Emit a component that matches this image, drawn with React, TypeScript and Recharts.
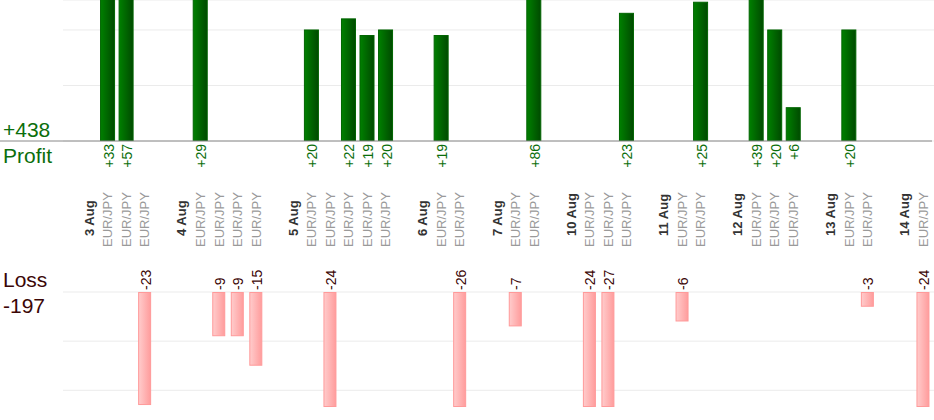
import { BarChart, Bar, XAxis, YAxis, CartesianGrid, LabelList } from "recharts";

// trading days and the result (in pips) of each EUR/JPY trade that day
const dates = ["3 Aug", "4 Aug", "5 Aug", "6 Aug", "7 Aug", "10 Aug", "11 Aug", "12 Aug", "13 Aug", "14 Aug"];
const pair = "EUR/JPY";
const results = [
  [33, 57, -23],
  [29, -9, -9, -15],
  [20, -24, 22, 19, 20],
  [19, -26],
  [-7, 86],
  [-24, -27, 23],
  [-6, 25],
  [39, 20, 6],
  [20, -3],
  [-24],
];

type Row = { id: number; label: string; kind: "gap" | "date" | "trade"; profit: number | null; loss: number | null };

const rows: Row[] = [];
dates.forEach((d, i) => {
  rows.push({ id: rows.length, label: "", kind: "gap", profit: null, loss: null });
  rows.push({ id: rows.length, label: d, kind: "date", profit: null, loss: null });
  results[i].forEach((v) =>
    rows.push({ id: rows.length, label: pair, kind: "trade", profit: v > 0 ? v : null, loss: v < 0 ? v : null })
  );
});

const totalProfit = results.flat().filter((v) => v > 0).reduce((a, b) => a + b, 0);
const totalLoss = results.flat().filter((v) => v < 0).reduce((a, b) => a + b, 0);

const FONT = "'Liberation Sans', Arial, sans-serif";
const GREEN = "#0b6e0b";
const BROWN = "#3b0606";
const PAD_LEFT = 61;
const GRID_LEFT = 63;
const LOSS_BOTTOM = 152;

const CategoryTick = (props: any) => {
  const { x, payload } = props;
  const row = rows[payload.value];
  if (!row || row.kind === "gap") return null;
  const tx = x + 5;
  const ty = row.kind === "date" ? 236 : 247;
  return (
    <text
      x={tx}
      y={ty}
      transform={`rotate(-90 ${tx} ${ty})`}
      textAnchor="start"
      fontSize={13}
      fontFamily={FONT}
      fontWeight={row.kind === "date" ? "bold" : "normal"}
      fill={row.kind === "date" ? "#333" : "#9a9a9a"}
    >
      {row.label}
    </text>
  );
};

const ProfitLabel = (props: any) => {
  const { x, y, width, height, value } = props;
  if (value == null) return null;
  const tx = x + width / 2 + 6;
  const ty = y + height + 3;
  return (
    <text x={tx} y={ty} transform={`rotate(-90 ${tx} ${ty})`} textAnchor="end" fontSize={14} fontFamily={FONT} fill={GREEN}>
      {`+${value}`}
    </text>
  );
};

const LossLabel = (props: any) => {
  const { x, y, width, height, value } = props;
  if (value == null) return null;
  const tx = x + width / 2 + 6;
  const ty = Math.min(y, y + height) - 2;
  return (
    <text x={tx} y={ty} transform={`rotate(-90 ${tx} ${ty})`} textAnchor="start" fontSize={14} fontFamily={FONT} fill={BROWN}>
      {`${value}`}
    </text>
  );
};

const ProfitBar = (props: any) => {
  const { x, y, width, height } = props;
  if (!height) return null;
  return <rect x={x + 0.5} y={y} width={width - 1} height={height} fill="url(#profitGrad)" stroke="#006400" strokeWidth={1} />;
};

const LossBar = (props: any) => {
  const { x, y, width, height } = props;
  if (!height) return null;
  const top = Math.min(y, y + height);
  const bottom = Math.min(Math.max(y, y + height), LOSS_BOTTOM);
  return <rect x={x + 0.5} y={top + 0.5} width={width - 1} height={bottom - top - 1} fill="url(#lossGrad)" stroke="#ff9a9a" strokeWidth={1} />;
};

// grid line, skipping the one recharts puts at the clipped edge of the loss scale
const LossGridLine = (p: any) => {
  if (Math.abs(p.y1 - LOSS_BOTTOM) < 1) return <g key={p.key} />;
  return <line key={p.key} x1={p.x1} y1={p.y1} x2={p.x2} y2={p.y2} stroke="#ebebeb" strokeWidth={1} />;
};

export default function App() {
  return (
    <div style={{ position: "absolute", left: 0, top: 0, width: 934, height: 420, background: "#fff", fontFamily: FONT }}>
      <div style={{ position: "absolute", left: 0, top: 0 }}>
        <BarChart width={934} height={255} data={rows} margin={{ top: 0, right: 2, bottom: 0, left: 0 }} barSize={15}>
          <defs>
            <linearGradient id="profitGrad" x1="0" y1="0" x2="1" y2="0">
              <stop offset="0%" stopColor="#008000" />
              <stop offset="100%" stopColor="#004a00" />
            </linearGradient>
            <linearGradient id="lossGrad" x1="0" y1="0" x2="1" y2="0">
              <stop offset="0%" stopColor="#ffcccc" />
              <stop offset="100%" stopColor="#ff9c9c" />
            </linearGradient>
          </defs>
          <CartesianGrid vertical={false} stroke="#ebebeb" x={GRID_LEFT} width={934 - GRID_LEFT} />
          <XAxis
            dataKey="id"
            height={114}
            interval={0}
            tickLine={false}
            axisLine={{ stroke: "#888" }}
            padding={{ left: PAD_LEFT, right: 0 }}
            tick={CategoryTick}
          />
          <YAxis hide domain={[0, 25.4]} ticks={[10, 20]} allowDataOverflow />
          <Bar dataKey="profit" isAnimationActive={false} shape={ProfitBar}>
            <LabelList dataKey="profit" content={ProfitLabel} />
          </Bar>
          <text x={3} y={137} fontSize={21} fontFamily={FONT} fill={GREEN}>{`+${totalProfit}`}</text>
          <text x={3} y={163} fontSize={21} fontFamily={FONT} fill={GREEN}>Profit</text>
        </BarChart>
      </div>
      <div style={{ position: "absolute", left: 0, top: 255 }}>
        <BarChart width={934} height={165} data={rows} margin={{ top: 37, right: 2, bottom: 13, left: 0 }} barSize={13}>
          <CartesianGrid vertical={false} horizontal={LossGridLine} x={GRID_LEFT} width={934 - GRID_LEFT} />
          <XAxis
            dataKey="id"
            orientation="top"
            height={0}
            interval={0}
            tick={false}
            tickLine={false}
            axisLine={{ stroke: "#888" }}
            padding={{ left: PAD_LEFT, right: 0 }}
          />
          <YAxis hide domain={[-23.4, 0]} ticks={[-20, -10]} allowDataOverflow />
          <Bar dataKey="loss" isAnimationActive={false} shape={LossBar}>
            <LabelList dataKey="loss" content={LossLabel} />
          </Bar>
          <text x={3} y={32} fontSize={21} fontFamily={FONT} fill={BROWN}>Loss</text>
          <text x={3} y={58} fontSize={21} fontFamily={FONT} fill={BROWN}>{`${totalLoss}`}</text>
        </BarChart>
      </div>
    </div>
  );
}
